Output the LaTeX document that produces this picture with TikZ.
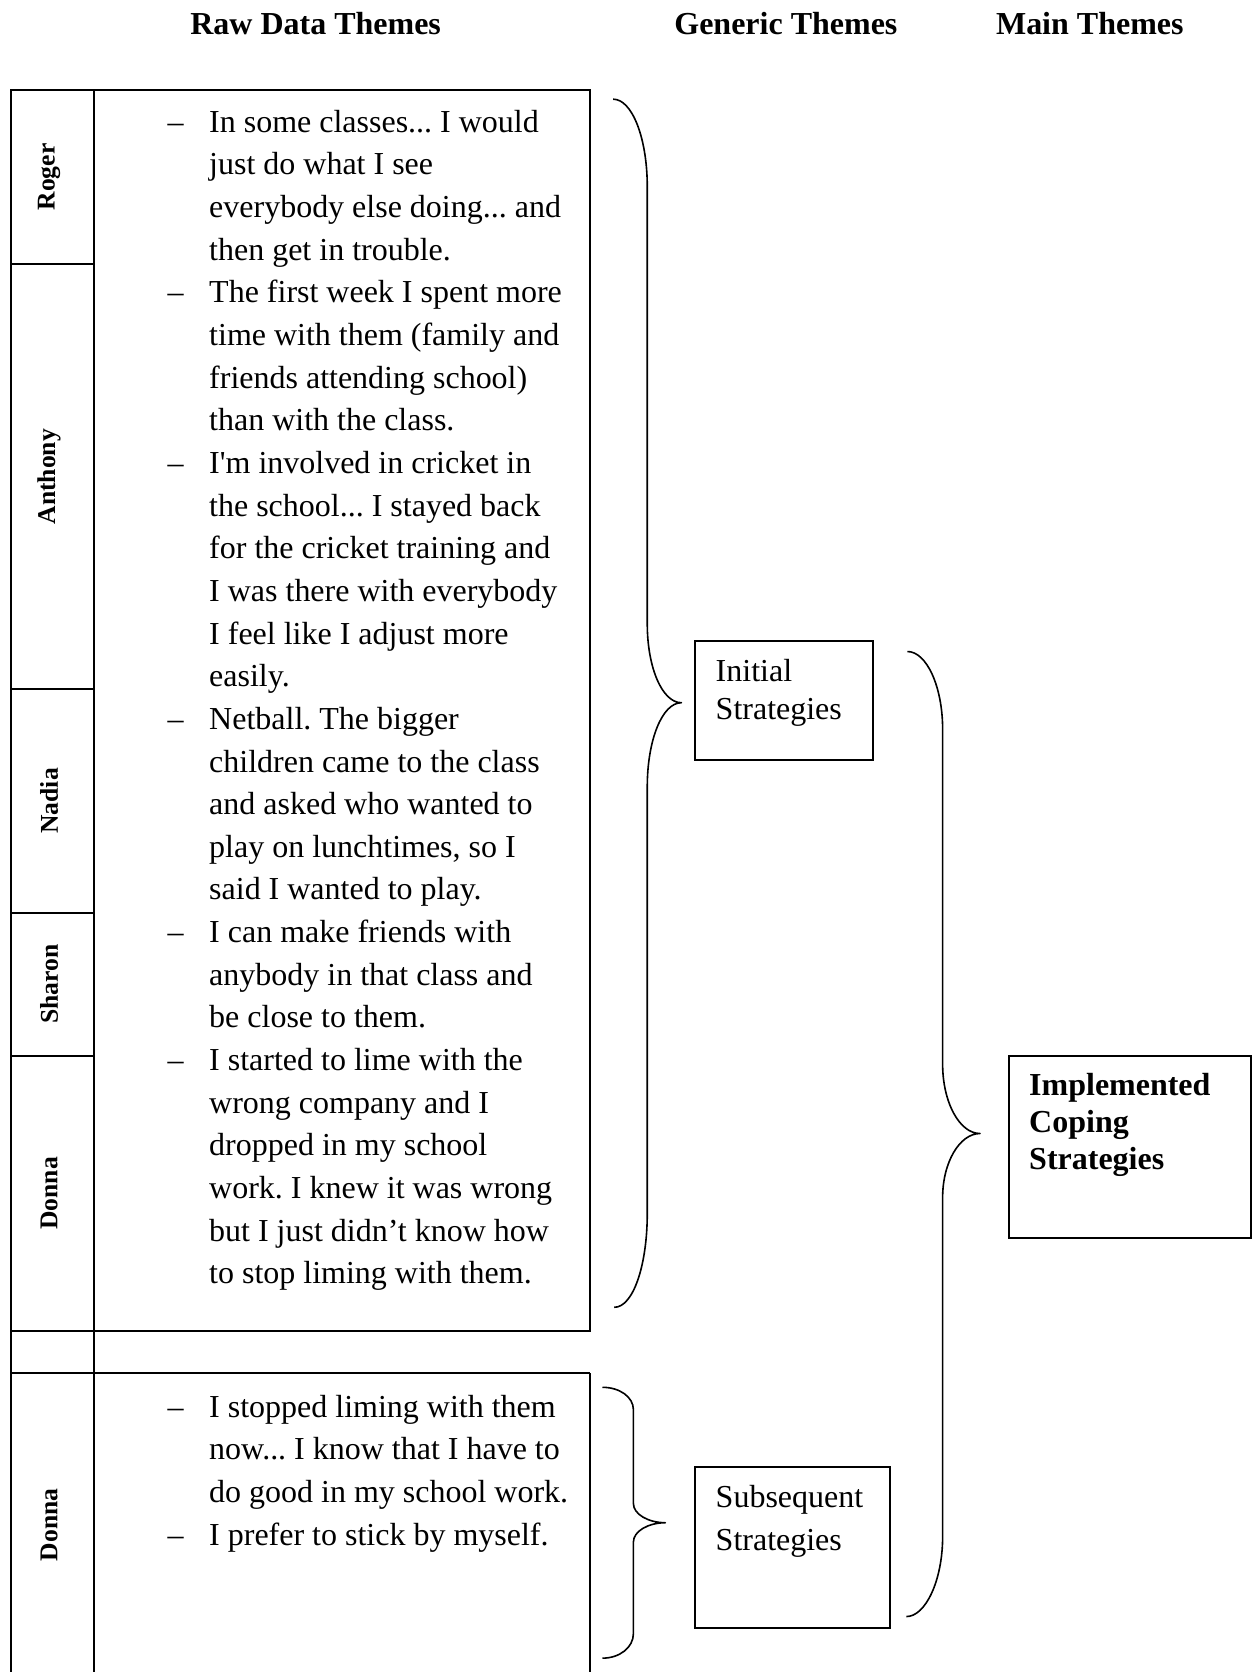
\documentclass[tikz,border=0pt]{standalone}
\usepackage{fontspec}
\setmainfont{Liberation Serif}
\newfontfamily\plainserif{Liberation Serif}
\newcommand{\apos}{{\plainserif'}}
\usepackage{array}
\frenchspacing
\begin{document}
\begin{tikzpicture}[x=1pt,y=-1pt,
  frame/.style={line width=1.8pt},
  brace/.style={line width=1.5pt, line join=round},
  head/.style={font=\fontsize{30}{36}\selectfont\bfseries, inner sep=0pt, anchor=base},
  who/.style={font=\fontsize{24}{28}\selectfont\bfseries, rotate=90, inner sep=0pt},
  quotes/.style={font=\fontsize{30}{40}\selectfont, inner sep=0pt, anchor=base west},
  boxtext/.style={inner sep=0pt, anchor=base west}]
\useasboundingbox (0,0) rectangle (1177,1568);

% column headings
\node[head] (hraw) at (296,32) {Raw Data Themes};
\node[head] (hgen) at (737,32) {Generic Themes};
\node[head] (hmain) at (1022,32) {Main Themes};

% table frame
\draw[frame] (10,84) rectangle (553,1248);
\draw[frame] (10,84) -- (10,1568);
\draw[frame] (88,84) -- (88,1568);
\draw[frame] (10,1288) -- (553,1288);
\draw[frame] (553,1288) -- (553,1568);
\foreach \yy in {248,646,856,990}
  \draw[frame] (10,\yy) -- (88,\yy);

% participant names
\node[who] (roger) at (46,166) {Roger};
\node[who] (anthony) at (46,447) {Anthony};
\node[who] (nadia) at (46,751) {Nadia};
\node[who] (sharon) at (46,923) {Sharon};
\node[who] (donnaA) at (46,1119) {Donna};
\node[who] (donnaB) at (46,1430) {Donna};

% quotations
\node[quotes] (qinit) at (157,124) {%
\begin{tabular}[t]{@{}p{39pt}@{}l@{}}
– & In some classes... I would\\
  & just do what I see\\
  & everybody else doing... and\\
  & then get in trouble.\\
– & The first week I spent more\\
  & time with them (family and\\
  & friends attending school)\\
  & than with the class.\\
– & I\apos m involved in cricket in\\
  & the school... I stayed back\\
  & for the cricket training and\\
  & I was there with everybody\\
  & I feel like I adjust more\\
  & easily.\\
– & Netball. The bigger\\
  & children came to the class\\
  & and asked who wanted to\\
  & play on lunchtimes, so I\\
  & said I wanted to play.\\
– & I can make friends with\\
  & anybody in that class and\\
  & be close to them.\\
– & I started to lime with the\\
  & wrong company and I\\
  & dropped in my school\\
  & work. I knew it was wrong\\
  & but I just didn’t know how\\
  & to stop liming with them.
\end{tabular}};

\node[quotes] (qsub) at (157,1329) {%
\begin{tabular}[t]{@{}p{39pt}@{}l@{}}
– & I stopped liming with them\\
  & now... I know that I have to\\
  & do good in my school work.\\
– & I prefer to stick by myself.
\end{tabular}};

% generic and main theme boxes
\draw[frame] (652,601) rectangle (819,713);
\node[boxtext, font=\fontsize{30}{36}\selectfont] (initial) at (671,639)
  {\begin{tabular}[t]{@{}l@{}}Initial\\Strategies\end{tabular}};
\draw[frame] (652,1376) rectangle (835,1527);
\node[boxtext, font=\fontsize{30}{40}\selectfont] (subseq) at (671,1414)
  {\begin{tabular}[t]{@{}l@{}}Subsequent\\Strategies\end{tabular}};
\draw[frame] (946,990) rectangle (1173,1161);
\node[boxtext, font=\fontsize{30}{35}\selectfont\bfseries] (implemented) at (965,1027)
  {\begin{tabular}[t]{@{}l@{}}Implemented\\Coping\\Strategies\end{tabular}};

% curly braces
\draw[brace] (575,93) .. controls (593,93) and (607,130) .. (607,175)
  -- (607,585) .. controls (607,626) and (621,659) .. (639,659)
  .. controls (621,659) and (607,694) .. (607,738)
  -- (607,1138) .. controls (607,1186) and (594,1226) .. (576,1226);

\draw[brace] (851,611) .. controls (869,611) and (884,644) .. (884,684)
  -- (884,998) .. controls (884,1034) and (900,1063) .. (919,1063)
  .. controls (900,1063) and (884,1090) .. (884,1123)
  -- (884,1441) .. controls (884,1482) and (868,1516) .. (850,1516);

\draw[brace] (565,1301) .. controls (581,1301) and (594,1310) .. (594,1322)
  -- (594,1410) .. controls (594,1420) and (608,1428) .. (624,1428)
  .. controls (608,1428) and (594,1436) .. (594,1446)
  -- (594,1532) .. controls (594,1545) and (581,1555) .. (565,1555);
\end{tikzpicture}
\end{document}
